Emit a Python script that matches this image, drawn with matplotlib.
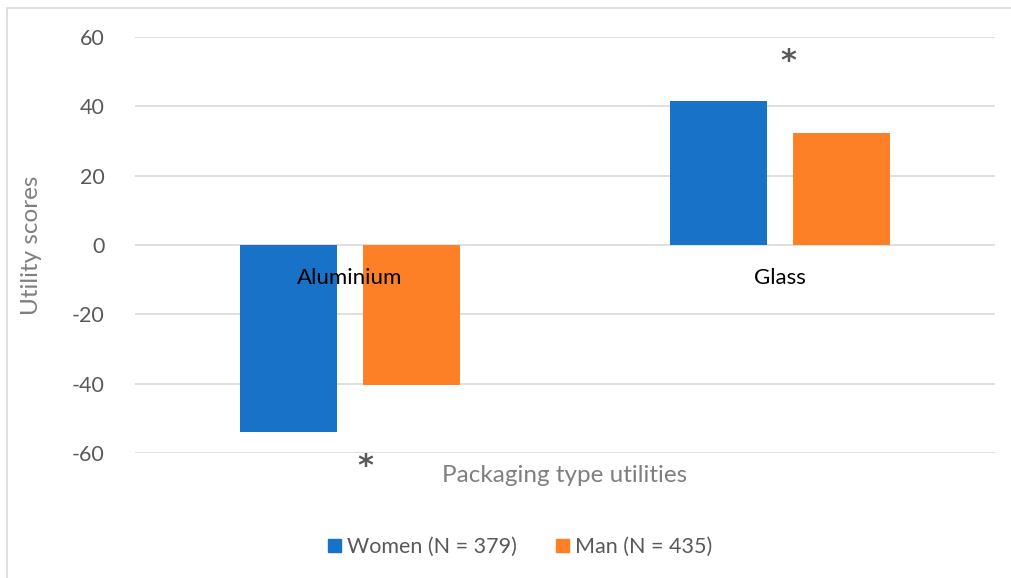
import matplotlib.pyplot as plt
import matplotlib.patches as mpatches
import numpy as np

categories = ['Aluminium', 'Glass']
women = [-53.8, 41.6]
man = [-40.5, 32.3]
series_names = ['Women (N = 379)', 'Man (N = 435)']
stars = [(0.035, -64.0), (1.02, 53.0)]   # significance marks (category pos, value)

plt.rcParams['font.family'] = ['Lato', 'DejaVu Sans']
plt.rcParams['axes.unicode_minus'] = False
grey = '#7f7f7f'
blue = '#1872c8'
orange = '#fd7f26'

fig = plt.figure(figsize=(10.12, 5.78), dpi=100)
ax = fig.add_axes([135 / 1012, 1 - 453 / 578, 860 / 1012, 416 / 578])

x = np.arange(len(categories))
w = 0.225
ax.bar(x - 0.143, women, w, color=blue, label=series_names[0])
ax.bar(x + 0.143, man, w, color=orange, label=series_names[1])

ax.set_xlim(-0.5, 1.5)
ax.set_ylim(-60, 60)
ax.set_yticks(np.arange(-60, 61, 20))
ax.grid(axis='y', color='#d9d9d9', linewidth=1.2)
ax.set_axisbelow(True)
for s in ax.spines.values():
    s.set_visible(False)
ax.tick_params(axis='y', length=0, pad=22, labelsize=15.5, labelcolor='#595959')
ax.set_xticks([])

# category labels sit next to the zero line, Excel style
for i, c in enumerate(categories):
    ax.text(x[i], -6.5, c, ha='center', va='top', fontsize=16, color='black')

for sx, sy in stars:
    ax.text(sx, sy, '*', ha='center', va='center', fontsize=22, color='#595959',
            family='DejaVu Sans', fontweight='bold')

fig.text(565 / 1012, 1 - 475 / 578, 'Packaging type utilities', ha='center', va='center',
         fontsize=17.5, color=grey)
fig.text(32 / 1012, 1 - 245 / 578, 'Utility scores', ha='center', va='center',
         rotation=90, fontsize=17.5, color=grey)

handles = [mpatches.Patch(color=blue, label=series_names[0]),
           mpatches.Patch(color=orange, label=series_names[1])]
fig.legend(handles=handles, loc='center', bbox_to_anchor=(520 / 1012, 1 - 547 / 578),
           ncol=2, frameon=False, fontsize=15.5, labelcolor='#595959',
           handlelength=0.6, handleheight=0.6, handletextpad=0.3, columnspacing=1.8)

fig.patches.append(mpatches.Rectangle((7 / 1012, -0.01), 1.1, 1 - 8 / 578 + 0.01,
                                      transform=fig.transFigure, fill=False,
                                      edgecolor='#d9d9d9', linewidth=1.2))

fig.savefig('out.png', dpi=100)
